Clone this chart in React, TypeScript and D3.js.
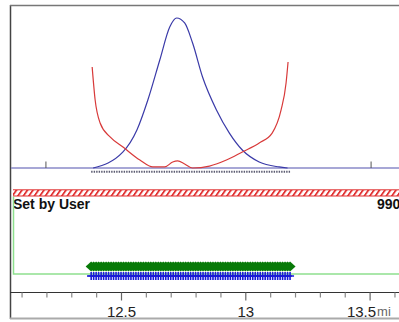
import React, { useEffect, useRef } from 'react';
import * as d3 from 'd3';

// sample positions (miles) of the scan
const samples = [
  12.38, 12.39, 12.40, 12.41, 12.42, 12.43, 12.44, 12.45, 12.46, 12.47,
  12.48, 12.49, 12.50, 12.51, 12.52, 12.53, 12.54, 12.55, 12.56, 12.57,
  12.58, 12.59, 12.60, 12.61, 12.62, 12.63, 12.64, 12.65, 12.66, 12.67,
  12.68, 12.69, 12.70, 12.71, 12.72, 12.73, 12.74, 12.75, 12.76, 12.77,
  12.78, 12.79, 12.80, 12.81, 12.82, 12.83, 12.84, 12.85, 12.86, 12.87,
  12.88, 12.89, 12.90, 12.91, 12.92, 12.93, 12.94, 12.95, 12.96, 12.97,
  12.98, 12.99, 13.00, 13.01, 13.02, 13.03, 13.04, 13.05, 13.06, 13.07,
  13.08, 13.09, 13.10, 13.11, 13.12, 13.13, 13.14, 13.15, 13.16, 13.17, 13.18,
];

// blue bell curve
const blueX = [12.388, 12.508, 12.564, 12.608, 12.656, 12.696, 12.724, 12.756, 12.788, 12.828, 12.884, 12.936, 12.988, 13.056, 13.136, 13.17];
const blueY = [0, 10.7, 25.3, 45.3, 72, 94, 100, 96.7, 83.3, 60.7, 38.7, 23.3, 12, 4, 0.7, 0];

// red curve
const redX = [12.384, 12.396, 12.416, 12.456, 12.508, 12.576, 12.628, 12.676, 12.708, 12.728, 12.756, 12.788, 12.856, 12.924, 12.988, 13.056, 13.108, 13.144, 13.164, 13.172];
const redY = [67.3, 45.3, 30, 20.7, 14, 5.3, 0.7, 0.7, 4, 4.7, 2.7, 0, 1.3, 5.3, 10.7, 16.7, 23.3, 38.7, 56.7, 70.7];

const markerTicks = [12.198, 13.506];
const majorTicks = [12.5, 13, 13.5];
const minorTicks = [12.1, 12.2, 12.3, 12.4, 12.6, 12.7, 12.8, 12.9, 13.1, 13.2, 13.3, 13.4, 13.6];

const W = 399;
const H = 322;
const FONT = '"Liberation Sans", Arial, sans-serif';

export default function App() {
  const axisRef = useRef<SVGGElement>(null);

  const x = d3.scaleLinear().domain([12.5, 13.5]).range([121, 369.6]);
  const y = d3.scaleLinear().domain([0, 100]).range([168, 18]);

  const curve = d3.line<[number, number]>()
    .x(d => x(d[0]))
    .y(d => y(d[1]))
    .curve(d3.curveMonotoneX);

  const bluePts = blueX.map((v, i) => [v, blueY[i]] as [number, number]);
  const redPts = redX.map((v, i) => [v, redY[i]] as [number, number]);

  useEffect(() => {
    if (!axisRef.current) return;
    const g = d3.select(axisRef.current);
    g.selectAll('*').remove();

    const minor = g.append('g').call(
      d3.axisBottom(x).tickValues(minorTicks).tickSize(5).tickFormat(() => '')
    );
    minor.select('.domain').remove();
    minor.selectAll('.tick line').attr('stroke', '#888').attr('stroke-width', 1.2);

    const major = g.append('g').call(
      d3.axisBottom(x).tickValues(majorTicks).tickSize(8).tickSizeOuter(0)
        .tickFormat(d => String(d))
    );
    major.select('.domain').remove();
    major.selectAll('.tick line').attr('stroke', '#666').attr('stroke-width', 1.2);
    major.selectAll('.tick text')
      .attr('y', 14)
      .attr('dy', '0.71em')
      .attr('fill', '#222')
      .style('font-family', FONT)
      .style('font-size', '15px');
    // last label sits left of its tick, followed by the unit
    const lastTick = major.selectAll<SVGGElement, number>('.tick').filter(d => d === 13.5);
    lastTick.select('text').attr('text-anchor', 'end').attr('x', 6);
    lastTick.append('text')
      .attr('x', 7)
      .attr('y', 14)
      .attr('dy', '0.71em')
      .attr('fill', '#666')
      .style('font-family', FONT)
      .style('font-size', '13px')
      .attr('text-anchor', 'start')
      .text('mi');
  }, []);

  return (
    <svg width={W} height={H} style={{ position: 'absolute', left: 0, top: 0, background: '#fff' }}>
      <defs>
        <pattern id="hatch" width={5.5} height={6} patternUnits="userSpaceOnUse" patternTransform="skewX(-35)">
          <rect x={0} y={0} width={2.2} height={6} fill="#e03030" />
        </pattern>
      </defs>

      {/* frame */}
      <line x1={10.5} y1={5} x2={10.5} y2={319} stroke="#444" strokeWidth={1.5} />
      <line x1={10} y1={5.5} x2={W} y2={5.5} stroke="#777" strokeWidth={1.5} />
      <line x1={10} y1={318.5} x2={W} y2={318.5} stroke="#aaa" strokeWidth={2} />

      {/* upper plot */}
      <line x1={11} y1={y(0)} x2={W} y2={y(0)} stroke="#8a8ac8" strokeWidth={1.6} />
      {markerTicks.map(v => (
        <line key={v} x1={x(v)} x2={x(v)} y1={y(0) - 6.5} y2={y(0)} stroke="#555" strokeWidth={1} />
      ))}
      <line
        x1={x(samples[0])}
        x2={x(samples[samples.length - 1])}
        y1={171.8}
        y2={171.8}
        stroke="#5a5a70"
        strokeWidth={2}
        strokeDasharray="1.4,1.1"
      />
      <path d={curve(bluePts) ?? ''} fill="none" stroke="#3a3aa8" strokeWidth={1.2} />
      <path d={curve(redPts) ?? ''} fill="none" stroke="#d83a3a" strokeWidth={1.2} />

      {/* hatched band */}
      <rect x={13} y={190} width={W - 13} height={6} fill="url(#hatch)" />
      <line x1={13} x2={W} y1={189.8} y2={189.8} stroke="#e03030" strokeWidth={1} />
      <line x1={13} x2={W} y1={196} y2={196} stroke="#e03030" strokeWidth={1} />
      <text x={13} y={209} fontFamily={FONT} fontSize={14} fontWeight="bold" fill="#111">
        Set by User
      </text>
      <text x={377} y={209} fontFamily={FONT} fontSize={14} fontWeight="bold" fill="#111">
        990
      </text>

      {/* lower plot */}
      <polyline points={`13.5,196.5 13.5,274 ${W},274`} fill="none" stroke="#8ee08e" strokeWidth={1.5} />
      <line x1={x(samples[0]) - 4} x2={x(samples[samples.length - 1]) + 2} y1={276} y2={276} stroke="#1a1ad8" strokeWidth={1.2} />
      {samples.map(v => (
        <path
          key={'d' + v}
          d={`M${x(v) - 5.5},266.5 L${x(v)},261.5 L${x(v) + 5.5},266.5 L${x(v)},271.5 Z`}
          fill="#087a08"
        />
      ))}
      {samples.map(v => (
        <path
          key={'p' + v}
          d={`M${x(v) - 4},276 H${x(v) + 4} M${x(v)},272 V${280}`}
          stroke="#1a1ad8"
          strokeWidth={1.6}
          fill="none"
        />
      ))}

      {/* axis */}
      <line x1={10} x2={W} y1={292.5} y2={292.5} stroke="#333" strokeWidth={1} />
      <g ref={axisRef} transform="translate(0,292.5)" />
    </svg>
  );
}
